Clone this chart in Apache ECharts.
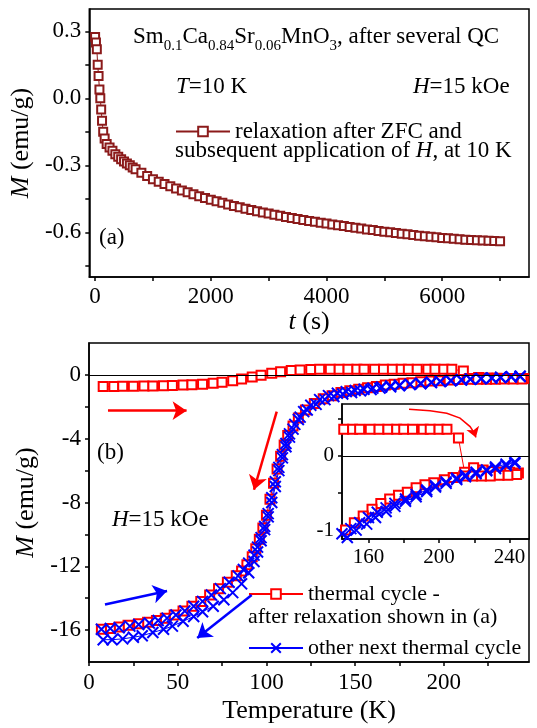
<!DOCTYPE html>
<html>
<head>
<meta charset="utf-8">
<script src="https://cdn.jsdelivr.net/npm/echarts@6/dist/echarts.min.js"></script>
<style>
  html, body { margin: 0; padding: 0; background: #fff; }
  #chart { width: 537px; height: 728px; }
</style>
</head>
<body>
<div id="chart"></div>
<script>
(function() {
  var FONT = 'Liberation Serif';
  var INK = '#000';
  var DARKRED = '#8b1a1a';
  var RED = '#ff0000';
  var BLUE = '#0000ff';

  // --- (a) relaxation at 10 K: time (s) / M (emu/g) ---
  var tA = [0, 15, 30, 45, 60, 75, 90, 105, 120, 140, 165, 200,
    250, 300, 350, 400, 450, 500, 550, 600, 650, 700,
    800, 900, 1000, 1100, 1200, 1300, 1400, 1500, 1600, 1700, 1800, 1900, 2000,
    2100, 2200, 2300, 2400, 2500, 2600, 2700, 2800, 2900, 3000,
    3100, 3200, 3300, 3400, 3500, 3600, 3700, 3800, 3900, 4000,
    4100, 4200, 4300, 4400, 4500, 4600, 4700, 4800, 4900, 5000,
    5100, 5200, 5300, 5400, 5500, 5600, 5700, 5800, 5900, 6000,
    6100, 6200, 6300, 6400, 6500, 6600, 6700, 6800, 6900, 7000];
  var mA = [0.275, 0.25, 0.22, 0.15, 0.10, 0.04, 0.0, -0.05, -0.10, -0.15, -0.18, -0.205,
    -0.22, -0.235, -0.25, -0.262, -0.273, -0.283, -0.292, -0.30, -0.31, -0.318,
    -0.333, -0.348, -0.362, -0.373, -0.384, -0.394, -0.404, -0.413, -0.421, -0.43, -0.438, -0.446, -0.454,
    -0.461, -0.468, -0.475, -0.482, -0.488, -0.494, -0.5, -0.506, -0.511, -0.516,
    -0.521, -0.526, -0.531, -0.536, -0.54, -0.545, -0.549, -0.553, -0.557, -0.561,
    -0.565, -0.568, -0.572, -0.576, -0.58, -0.583, -0.587, -0.59, -0.594, -0.597,
    -0.6, -0.603, -0.606, -0.609, -0.612, -0.615, -0.617, -0.62, -0.622, -0.625,
    -0.627, -0.629, -0.631, -0.633, -0.634, -0.636, -0.637, -0.638, -0.639, -0.64];

  // --- (b) thermal cycle after relaxation (red): heating then cooling ---
  var redT = [8, 14, 19, 25, 31, 36, 42, 47, 53, 58, 64, 70, 75, 81, 86, 92, 97, 103, 108, 114,
    119, 125, 130, 136, 141, 146, 151, 155, 161, 166, 171, 176, 180, 185, 191, 195, 200, 204.5, 211, 214.5,
    219.6, 225, 230, 235, 240, 245,
    244, 239, 234, 229, 224, 219, 214, 208, 203, 197, 192, 187, 182, 177, 172, 167, 162, 157, 152, 147,
    142, 137, 132, 127, 122, 118, 115, 112, 110, 108, 106, 104, 102, 100, 98, 96, 94, 92, 89, 86,
    83, 78, 73, 68, 63, 58, 53, 48, 43, 38, 33, 28, 22, 17, 12, 7];
  var redM = [-0.72, -0.72, -0.71, -0.71, -0.70, -0.69, -0.68, -0.66, -0.64, -0.62, -0.58, -0.53, -0.46, -0.37, -0.26, -0.13, -0.02, 0.10, 0.20, 0.27,
    0.31, 0.34, 0.35, 0.36, 0.36, 0.36, 0.36, 0.36, 0.36, 0.36, 0.36, 0.36, 0.36, 0.36, 0.36, 0.36, 0.36, 0.36, 0.24, -0.22,
    -0.16, -0.19, -0.21, -0.22, -0.22, -0.23,
    -0.25, -0.26, -0.26, -0.27, -0.27, -0.27, -0.27, -0.29, -0.32, -0.36, -0.39, -0.43, -0.49, -0.53, -0.58, -0.64, -0.72, -0.81, -0.9, -1.0,
    -1.1, -1.3, -1.5, -1.8, -2.2, -2.7, -3.2, -3.8, -4.4, -5.1, -5.9, -6.8, -7.8, -8.8, -9.6, -10.3, -10.9, -11.4, -11.9, -12.3,
    -12.6, -13.0, -13.4, -13.8, -14.2, -14.5, -14.8, -15.05, -15.25, -15.4, -15.5, -15.6, -15.7, -15.8, -15.9, -15.95];

  // --- (b) other next thermal cycle (blue): heating, then cooling ---
  var blueUpT = [8, 13, 19, 25, 30, 36, 42, 47, 53, 59, 64, 70, 76, 81, 86, 90, 93, 95, 97, 99,
    101, 103, 105, 107, 109, 111, 113, 115, 118, 121, 125, 130, 135, 140, 145, 150, 155, 160, 165, 170,
    175, 181, 187, 193, 198, 204, 210, 215, 221, 227, 232, 238, 243];
  var blueUpM = [-16.6, -16.6, -16.55, -16.45, -16.35, -16.15, -15.95, -15.75, -15.45, -15.15, -14.85, -14.5, -14.1, -13.65, -13.1, -12.4, -11.7, -11.1, -10.4, -9.7,
    -8.9, -8.0, -7.0, -6.0, -5.2, -4.5, -3.9, -3.4, -2.8, -2.3, -1.9, -1.55, -1.3, -1.15, -1.05, -0.98, -0.9, -0.83, -0.76, -0.7,
    -0.64, -0.58, -0.52, -0.46, -0.4, -0.35, -0.3, -0.26, -0.22, -0.19, -0.15, -0.11, -0.08];
  var blueDownT = [243, 238, 232, 227, 221, 215, 210, 204, 198, 193, 187, 181, 175, 170, 164, 159, 153, 148, 143, 138,
    133, 128, 123, 119, 116, 113, 111, 109, 107, 105, 103, 101, 99, 97, 95, 93, 90, 87, 84, 79,
    74, 69, 64, 59, 54, 49, 44, 39, 34, 28, 23, 17, 12, 7];
  var blueDownM = [-0.1, -0.13, -0.17, -0.2, -0.24, -0.28, -0.32, -0.37, -0.42, -0.48, -0.55, -0.61, -0.68, -0.75, -0.83, -0.92, -1.0, -1.1, -1.2, -1.35,
    -1.55, -1.85, -2.2, -2.65, -3.1, -3.7, -4.3, -5.0, -5.8, -6.7, -7.7, -8.7, -9.5, -10.2, -10.8, -11.3, -11.8, -12.2, -12.6, -13.0,
    -13.4, -13.8, -14.2, -14.5, -14.8, -15.05, -15.25, -15.4, -15.55, -15.65, -15.75, -15.85, -15.9, -15.95];

  // ticks and labels
  var tTicks = [0, 1000, 2000, 3000, 4000, 5000, 6000, 7000];
  var tLabels = [0, 2000, 4000, 6000];
  var mATicks = [-0.75, -0.6, -0.45, -0.3, -0.15, 0, 0.15, 0.3];
  var mALabels = [-0.6, -0.3, 0, 0.3];
  var tempTicks = [0, 25, 50, 75, 100, 125, 150, 175, 200, 225];
  var tempLabels = [0, 50, 100, 150, 200];
  var mBTicks = [-16, -14, -12, -10, -8, -6, -4, -2, 0];
  var mBLabels = [-16, -12, -8, -4, 0];
  var insetTTicks = [160, 180, 200, 220, 240];
  var insetTLabels = [160, 200, 240];
  var insetMTicks = [-1, -0.5, 0, 0.5];
  var insetMLabels = [-1, 0];

  // arrows, in data coordinates of panel (b) and of the inset
  var arrowsRed = [[[10.7, -2.24], [55, -2.24]], [[105.8, -2.3], [93, -7.2]]];
  var arrowsBlue = [[[9, -14.4], [44, -13.55]], [[91.7, -13.8], [61, -16.5]]];
  var arrowInsetBody = [[183, 0.63], [194.9, 0.61], [204.4, 0.575], [211.9, 0.51], [217.6, 0.395], [220.2, 0.3]];
  var arrowInsetHead = [[220.2, 0.3], [220.9, 0.25]];

  function pairs(xs, ys) { return xs.map(function(x, i) { return [x, ys[i]]; }); }

  var nameStyle = {
    color: INK, fontFamily: FONT, fontSize: 26,
    rich: { i: { fontStyle: 'italic', fontFamily: FONT, fontSize: 26, color: INK } }
  };
  function plain(v) { return String(v); }

  function axis(grid, min, max, ticks, labels, size, margin, fmt, name, gap) {
    return {
      type: 'value', gridIndex: grid, min: min, max: max,
      name: name || '', nameLocation: 'middle', nameGap: gap || 0, nameTextStyle: nameStyle,
      axisLine: { show: true, onZero: false, lineStyle: { color: INK, width: 1.5 } },
      axisTick: { show: true, inside: false, length: 4, customValues: ticks, lineStyle: { color: INK, width: 1.5 } },
      axisLabel: { customValues: labels, color: INK, fontFamily: FONT, fontSize: size, margin: margin, formatter: fmt || plain },
      splitLine: { show: false }
    };
  }

  var zeroLine = {
    silent: true, symbol: ['none', 'none'], label: { show: false },
    lineStyle: { color: INK, width: 1, type: 'solid' }, data: [{ yAxis: 0 }]
  };

  var crossPath = 'path://M0,0L10,10M10,0L0,10';

  var rich = {
    n: { fontFamily: FONT, fontSize: 23, lineHeight: 34 },
    i: { fontFamily: FONT, fontSize: 23, fontStyle: 'italic', lineHeight: 34 },
    s: { fontFamily: FONT, fontSize: 15, lineHeight: 14, verticalAlign: 'bottom' }
  };
  function note(x, y, text, size) {
    var r = rich;
    if (size) {
      r = {
        n: { fontFamily: FONT, fontSize: size, lineHeight: 30 },
        i: { fontFamily: FONT, fontSize: size, fontStyle: 'italic', lineHeight: 30 }
      };
    }
    return { type: 'text', x: x, y: y, silent: true,
      style: { text: text, rich: r, fontFamily: FONT, fontSize: 23, fill: INK, verticalAlign: 'middle' } };
  }

  var legendText = {
    'relaxation': 'relaxation after ZFC and',
    'thermal cycle': 'thermal cycle -',
    'other': 'other next thermal cycle'
  };
  function legend(name, left, centerY, width, size) {
    return {
      data: [name], left: left, top: centerY - 6, padding: 0,
      itemWidth: width, itemHeight: 12, selectedMode: false,
      formatter: function(n) { return legendText[n]; },
      textStyle: { color: INK, fontFamily: FONT, fontSize: size, padding: 0 }
    };
  }

  function arrowSeries(xi, coords, color, width, size) {
    return {
      type: 'lines', coordinateSystem: 'cartesian2d', xAxisIndex: xi, yAxisIndex: xi, silent: true, z: 5,
      symbol: ['none', 'arrow'], symbolSize: size,
      itemStyle: { color: color }, lineStyle: { color: color, width: width, opacity: 1, curveness: 0 },
      data: coords.map(function(c) { return { coords: c }; })
    };
  }

  var chart = echarts.init(document.getElementById('chart'), null, { renderer: 'canvas' });
  chart.setOption({
    animation: false,
    backgroundColor: '#fff',
    grid: [
      { left: 89, right: 8, top: 9, bottom: 451, show: true, borderColor: INK, borderWidth: 1.5 },
      { left: 89, right: 8, top: 343, bottom: 66, show: true, borderColor: INK, borderWidth: 1.5 },
      { left: 342, right: 8, top: 404, bottom: 189, show: true, borderColor: INK, borderWidth: 1.5, backgroundColor: '#fff' }
    ],
    xAxis: [
      axis(0, -100, 7500, tTicks, tLabels, 23, 8, null, '{i|t} (s)', 24),
      axis(1, 0, 248, tempTicks, tempLabels, 23, 9, null, 'Temperature (K)', 36),
      axis(2, 145, 251, insetTTicks, insetTLabels, 21, 8, null)
    ],
    yAxis: [
      axis(0, -0.8, 0.4, mATicks, mALabels, 23, 8, function(v) { return v.toFixed(1); }, '{i|M} (emu/g)', 50),
      axis(1, -18, 2, mBTicks, mBLabels, 23, 8, null, '{i|M} (emu/g)', 50),
      axis(2, -1.12, 0.7, insetMTicks, insetMLabels, 21, 8, null)
    ],
    legend: [
      legend('relaxation', 175, 126, 54, 23),
      legend('thermal cycle', 248, 589, 54, 22),
      legend('other', 248, 643, 54, 22)
    ],
    series: [
      {
        name: 'relaxation', type: 'line', xAxisIndex: 0, yAxisIndex: 0, data: pairs(tA, mA),
        symbol: 'emptyRect', symbolSize: 8, showAllSymbol: true,
        itemStyle: { color: DARKRED, borderColor: DARKRED, borderWidth: 1.3 },
        lineStyle: { color: DARKRED, width: 1 }
      },
      {
        name: 'thermal cycle', type: 'line', xAxisIndex: 1, yAxisIndex: 1, data: pairs(redT, redM),
        symbol: 'emptyRect', symbolSize: 9, showAllSymbol: true,
        itemStyle: { color: RED, borderColor: RED, borderWidth: 1.5 },
        lineStyle: { color: RED, width: 1 }, markLine: zeroLine
      },
      {
        name: 'other', type: 'line', xAxisIndex: 1, yAxisIndex: 1,
        data: pairs(blueUpT.concat(blueDownT), blueUpM.concat(blueDownM)),
        symbol: crossPath, symbolSize: 11, showAllSymbol: true,
        itemStyle: { color: BLUE, borderColor: BLUE, borderWidth: 2 },
        lineStyle: { color: BLUE, width: 1 }
      },
      {
        name: 'thermal cycle', type: 'line', xAxisIndex: 2, yAxisIndex: 2, data: pairs(redT, redM),
        symbol: 'emptyRect', symbolSize: 9, showAllSymbol: true, clip: true,
        itemStyle: { color: RED, borderColor: RED, borderWidth: 1.5 },
        lineStyle: { color: RED, width: 1 }, markLine: zeroLine
      },
      {
        name: 'other', type: 'line', xAxisIndex: 2, yAxisIndex: 2,
        data: pairs(blueUpT.concat(blueDownT), blueUpM.concat(blueDownM)),
        symbol: crossPath, symbolSize: 11, showAllSymbol: true, clip: true,
        itemStyle: { color: BLUE, borderColor: BLUE, borderWidth: 2 },
        lineStyle: { color: BLUE, width: 1 }
      },
      arrowSeries(1, arrowsRed, RED, 2.5, 14),
      arrowSeries(1, arrowsBlue, BLUE, 2.5, 14),
      {
        type: 'lines', coordinateSystem: 'cartesian2d', xAxisIndex: 2, yAxisIndex: 2, silent: true, z: 5,
        polyline: true, symbol: 'none',
        lineStyle: { color: RED, width: 1.5, opacity: 1 },
        data: [{ coords: arrowInsetBody }]
      },
      arrowSeries(2, [arrowInsetHead], RED, 1.5, 10)
    ],
    graphic: [
      note(133, 37, '{n|Sm}{s|0.1}{n|Ca}{s|0.84}{n|Sr}{s|0.06}{n|MnO}{s|3}{n|, after several QC}'),
      note(176, 87, '{i|T}{n|=10 K}'),
      note(413, 87, '{i|H}{n|=15 kOe}'),
      note(175, 151, '{n|subsequent application of }{i|H}{n|, at 10 K}'),
      note(99, 238, '{n|(a)}'),
      note(97, 453, '{n|(b)}'),
      note(112, 520, '{i|H}{n|=15 kOe}'),
      note(248, 617, '{n|after relaxation shown in (a)}', 22)
    ]
  });
  window.addEventListener('resize', function() { chart.resize(); });
})();
</script>
</body>
</html>
